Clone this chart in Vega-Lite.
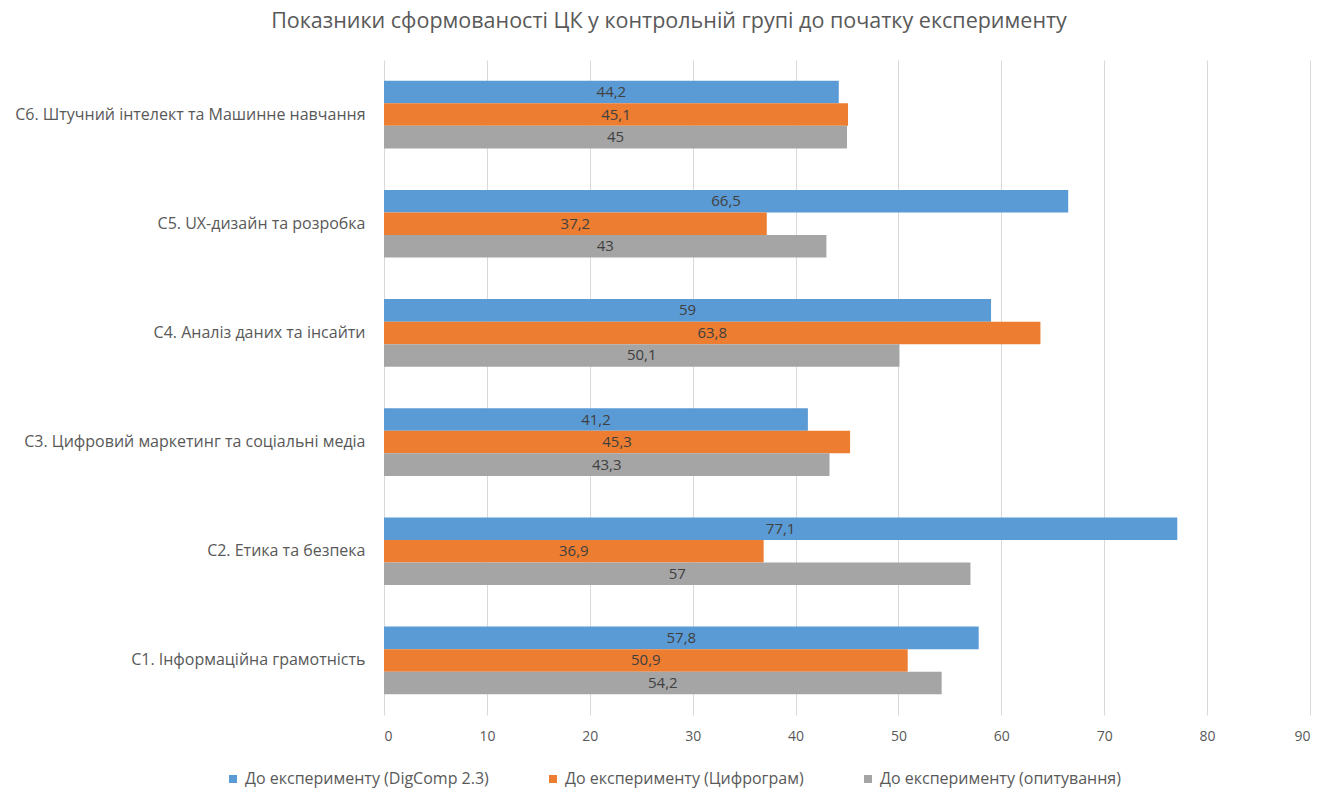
{
  "$schema": "https://vega.github.io/schema/vega-lite/v6.json",
  "autosize": "none",
  "width": 926,
  "height": 655,
  "padding": {"left": 384, "top": 60, "right": 23, "bottom": 75},
  "background": "white",
  "config": {
    "locale": {"number": {"decimal": ",", "thousands": " ", "grouping": [3], "currency": ["", ""]}},
    "font": "Open Sans",
    "view": {"stroke": null}
  },
  "title": {
    "text": "Показники сформованості ЦК у контрольній групі до початку експерименту",
    "anchor": "middle",
    "frame": "group",
    "dx": -178,
    "offset": 28,
    "fontSize": 21.5,
    "fontWeight": "normal",
    "color": "#595959",
    "font": "Open Sans"
  },
  "data": {
    "values": [
      {"category": "C6. Штучний інтелект та Машинне навчання", "series": "До експерименту (DigComp 2.3)", "value": 44.2},
      {"category": "C6. Штучний інтелект та Машинне навчання", "series": "До експерименту (Цифрограм)", "value": 45.1},
      {"category": "C6. Штучний інтелект та Машинне навчання", "series": "До експерименту (опитування)", "value": 45},
      {"category": "C5. UX-дизайн та розробка", "series": "До експерименту (DigComp 2.3)", "value": 66.5},
      {"category": "C5. UX-дизайн та розробка", "series": "До експерименту (Цифрограм)", "value": 37.2},
      {"category": "C5. UX-дизайн та розробка", "series": "До експерименту (опитування)", "value": 43},
      {"category": "C4. Аналіз даних та інсайти", "series": "До експерименту (DigComp 2.3)", "value": 59},
      {"category": "C4. Аналіз даних та інсайти", "series": "До експерименту (Цифрограм)", "value": 63.8},
      {"category": "C4. Аналіз даних та інсайти", "series": "До експерименту (опитування)", "value": 50.1},
      {"category": "C3. Цифровий маркетинг та соціальні медіа", "series": "До експерименту (DigComp 2.3)", "value": 41.2},
      {"category": "C3. Цифровий маркетинг та соціальні медіа", "series": "До експерименту (Цифрограм)", "value": 45.3},
      {"category": "C3. Цифровий маркетинг та соціальні медіа", "series": "До експерименту (опитування)", "value": 43.3},
      {"category": "C2. Етика та безпека", "series": "До експерименту (DigComp 2.3)", "value": 77.1},
      {"category": "C2. Етика та безпека", "series": "До експерименту (Цифрограм)", "value": 36.9},
      {"category": "C2. Етика та безпека", "series": "До експерименту (опитування)", "value": 57},
      {"category": "C1. Інформаційна грамотність", "series": "До експерименту (DigComp 2.3)", "value": 57.8},
      {"category": "C1. Інформаційна грамотність", "series": "До експерименту (Цифрограм)", "value": 50.9},
      {"category": "C1. Інформаційна грамотність", "series": "До експерименту (опитування)", "value": 54.2}
    ]
  },
  "encoding": {
    "y": {
      "field": "category",
      "type": "nominal",
      "sort": null,
      "scale": {"paddingInner": 0.38, "paddingOuter": 0.19},
      "axis": {
        "title": null,
        "domain": false,
        "ticks": false,
        "labelFontSize": 16,
        "labelColor": "#595959",
        "labelPadding": 19,
        "labelLimit": 420,
        "labelFont": "Open Sans"
      }
    },
    "yOffset": {
      "field": "series",
      "type": "nominal",
      "sort": ["До експерименту (DigComp 2.3)", "До експерименту (Цифрограм)", "До експерименту (опитування)"],
      "scale": {"paddingInner": 0, "paddingOuter": 0}
    }
  },
  "layer": [
    {
      "mark": {"type": "bar"},
      "encoding": {
        "x": {
          "field": "value",
          "type": "quantitative",
          "scale": {"domain": [0, 90], "nice": false},
          "axis": {
            "title": null,
            "values": [0, 10, 20, 30, 40, 50, 60, 70, 80, 90],
            "domain": false,
            "ticks": false,
            "grid": true,
            "gridColor": "#D9D9D9",
            "gridWidth": 1,
            "labelFontSize": 14,
            "labelColor": "#595959",
            "labelPadding": 14,
            "labelFont": "Open Sans"
          }
        },
        "color": {
          "field": "series",
          "type": "nominal",
          "sort": ["До експерименту (DigComp 2.3)", "До експерименту (Цифрограм)", "До експерименту (опитування)"],
          "scale": {"range": ["#5B9BD5", "#ED7D31", "#A5A5A5"]},
          "legend": {
            "title": null,
            "orient": "none",
            "direction": "horizontal",
            "legendX": -159,
            "legendY": 711,
            "symbolType": "square",
            "symbolSize": 64,
            "symbolStrokeWidth": 0,
            "labelFontSize": 16,
            "labelColor": "#595959",
            "labelFont": "Open Sans",
            "labelLimit": 400,
            "columnPadding": 56,
            "labelOffset": 4
          }
        }
      }
    },
    {
      "transform": [{"calculate": "datum.value / 2", "as": "mid"}],
      "mark": {"type": "text", "fontSize": 15, "color": "#404040", "font": "Open Sans", "baseline": "middle", "align": "center"},
      "encoding": {
        "x": {"field": "mid", "type": "quantitative"},
        "text": {"field": "value", "type": "quantitative", "format": ".1~f"}
      }
    }
  ]
}
